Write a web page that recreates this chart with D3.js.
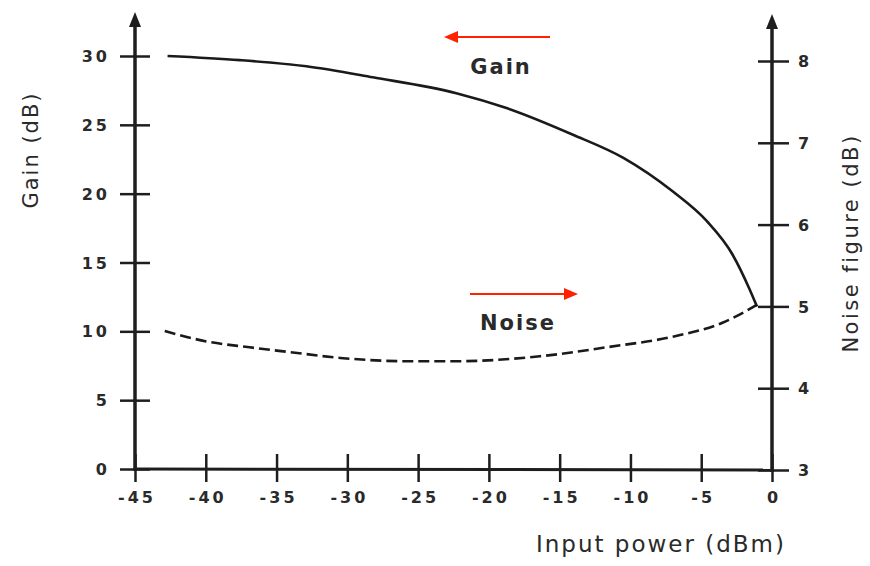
<!DOCTYPE html>
<html>
<head>
<meta charset="utf-8">
<script src="https://cdn.jsdelivr.net/npm/d3@7"></script>
<style>
    body { margin: 0; background: #fff; }
    svg text { font-family: "DejaVu Sans", sans-serif; fill: #2a2a2a; }
</style>
</head>
<body>
<svg id="chart" width="870" height="566"></svg>
<script>
// input power (dBm) vs gain (dB)
let gainPower = [-42.7, -37.6, -32.9, -28.2, -22.3, -18.7, -14.1, -10.5, -7.0, -4.6, -2.8, -1.6, -1.06];
let gainValues = [30.0, 29.7, 29.25, 28.45, 27.3, 26.2, 24.3, 22.6, 20.15, 18.0, 15.6, 13.1, 11.8];

// input power (dBm) vs noise figure (dB)
let noisePower = [-42.9, -39.9, -36.9, -34.0, -30.5, -25.8, -22.3, -16.4, -11.7, -7.0, -3.5, -1.35, -1.06];
let noiseValues = [4.70, 4.57, 4.50, 4.44, 4.37, 4.33, 4.33, 4.39, 4.50, 4.63, 4.80, 4.99, 5.02];

let xTicks = [-45, -40, -35, -30, -25, -20, -15, -10, -5, 0];
let gainTicks = [0, 5, 10, 15, 20, 25, 30];
let noiseTicks = [3, 4, 5, 6, 7, 8];

let svg = d3.select("#chart");

let x = d3.scaleLinear().domain([-45, 0]).range([135, 772]);
let yGain = d3.scaleLinear().domain([0, 30]).range([469, 56]);
let yNoise = d3.scaleLinear().domain([3, 8]).range([470, 61]);

let ink = "#1e1e1e";

// bottom axis
let xAxis = svg.append("g")
    .attr("transform", `translate(0,${yGain(0)})`)
    .call(d3.axisBottom(x).tickValues(xTicks).tickSizeOuter(0));
xAxis.select(".domain").remove();
xAxis.selectAll(".tick line").attr("y1", -15).attr("y2", 13).attr("stroke", ink).attr("stroke-width", 2.5);
xAxis.selectAll(".tick text")
    .attr("y", 28).attr("dy", "0.35em")
    .attr("letter-spacing", 3).attr("dx", 1.5)
    .text(d => d === 0 ? "0" : "-" + Math.abs(d));

// left axis
let leftAxis = svg.append("g")
    .attr("transform", `translate(${x(-45)},0)`)
    .call(d3.axisLeft(yGain).tickValues(gainTicks).tickSizeOuter(0));
leftAxis.select(".domain").remove();
leftAxis.selectAll(".tick line").attr("x1", -15).attr("x2", 15).attr("stroke", ink).attr("stroke-width", 2.5);
leftAxis.selectAll(".tick text")
    .attr("x", -25).attr("dy", "0.35em")
    .attr("letter-spacing", 3);

// right axis
let rightAxis = svg.append("g")
    .attr("transform", `translate(${x(0)},0)`)
    .call(d3.axisRight(yNoise).tickValues(noiseTicks).tickFormat(d3.format("d")).tickSizeOuter(0));
rightAxis.select(".domain").remove();
rightAxis.selectAll(".tick line").attr("x1", -14).attr("x2", 17).attr("stroke", ink).attr("stroke-width", 2.5);
rightAxis.selectAll(".tick text")
    .attr("x", 26).attr("dy", "0.35em");

svg.selectAll(".tick text")
    .attr("fill", "#2a2a2a")
    .attr("font-family", "DejaVu Sans, sans-serif")
    .attr("font-size", 16)
    .attr("font-weight", "bold");

// axis lines with arrow heads
let frame = svg.append("g").attr("stroke", ink).attr("stroke-width", 3.5).attr("fill", "none");
frame.append("line").attr("x1", x(-45)).attr("x2", x(-45)).attr("y1", 24).attr("y2", yGain(0) + 2);
frame.append("line").attr("x1", x(0)).attr("x2", x(0)).attr("y1", 26).attr("y2", yNoise(3) + 2);
frame.append("line").attr("x1", x(-45)).attr("x2", x(0)).attr("y1", yGain(0)).attr("y2", yNoise(3)).attr("stroke-width", 3);

svg.append("path")
    .attr("d", `M${x(-45)},12 L${x(-45) - 6},27 L${x(-45) + 6},27 Z`)
    .attr("fill", ink);
svg.append("path")
    .attr("d", `M${x(0)},14 L${x(0) - 6},29 L${x(0) + 6},29 Z`)
    .attr("fill", ink);

// curves
let gainLine = d3.line()
    .x((d, i) => x(gainPower[i]))
    .y(d => yGain(d))
    .curve(d3.curveMonotoneX);

let noiseLine = d3.line()
    .x((d, i) => x(noisePower[i]))
    .y(d => yNoise(d))
    .curve(d3.curveMonotoneX);

svg.append("path")
    .attr("d", gainLine(gainValues))
    .attr("fill", "none")
    .attr("stroke", "#1a1a1a")
    .attr("stroke-width", 2.6);

svg.append("path")
    .attr("d", noiseLine(noiseValues))
    .attr("fill", "none")
    .attr("stroke", "#1a1a1a")
    .attr("stroke-width", 2.6)
    .attr("stroke-dasharray", "11,5");

// curve labels
svg.append("text").attr("x", 501).attr("y", 67).attr("dy", "0.35em")
    .attr("text-anchor", "middle").attr("font-size", 21).attr("letter-spacing", 2)
    .attr("font-weight", 600)
    .text("Gain");
svg.append("text").attr("x", 518).attr("y", 323).attr("dy", "0.35em")
    .attr("text-anchor", "middle").attr("font-size", 21).attr("letter-spacing", 2)
    .attr("font-weight", 600)
    .text("Noise");

// red arrows
let red = "#ff2200";
svg.append("line").attr("x1", 550).attr("x2", 455).attr("y1", 37).attr("y2", 37)
    .attr("stroke", red).attr("stroke-width", 2);
svg.append("path").attr("d", "M444,37 L458,31 L458,43 Z").attr("fill", red);
svg.append("line").attr("x1", 470).attr("x2", 566).attr("y1", 294).attr("y2", 294)
    .attr("stroke", red).attr("stroke-width", 2);
svg.append("path").attr("d", "M578,294 L564,288 L564,300 Z").attr("fill", red);

// axis titles
svg.append("text").attr("x", 661).attr("y", 544).attr("dy", "0.35em")
    .attr("text-anchor", "middle").attr("font-size", 23).attr("letter-spacing", 2)
    .text("Input power (dBm)");
svg.append("text")
    .attr("transform", "translate(31,150) rotate(-90)")
    .attr("dy", "0.35em").attr("text-anchor", "middle")
    .attr("font-size", 21).attr("letter-spacing", 2)
    .text("Gain (dB)");
svg.append("text")
    .attr("transform", "translate(851,243) rotate(-90)")
    .attr("dy", "0.35em").attr("text-anchor", "middle")
    .attr("font-size", 21).attr("letter-spacing", 2.5)
    .text("Noise figure (dB)");
</script>
</body>
</html>
